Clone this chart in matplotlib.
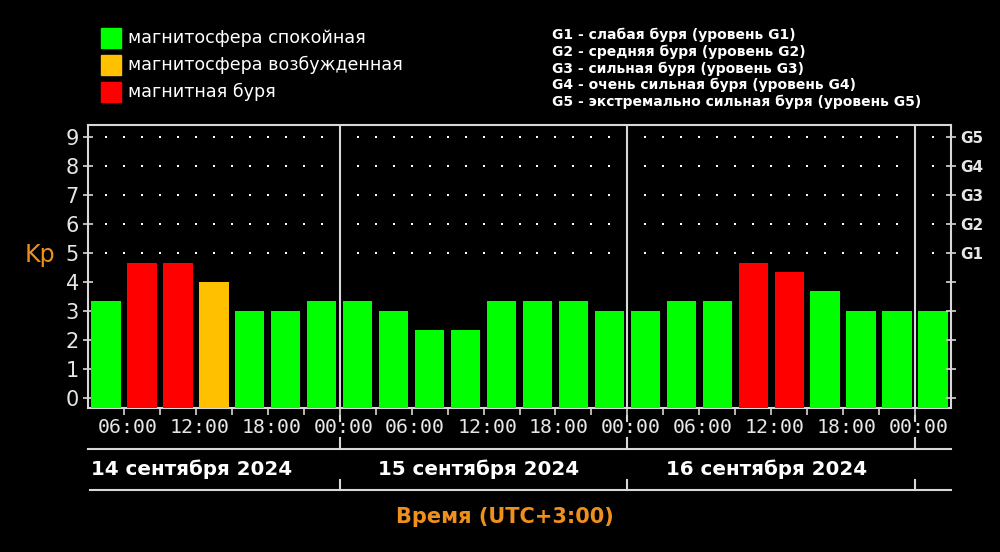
import numpy as np
import matplotlib.pyplot as plt

# Kp index, 3-hour intervals starting 14 Sep 2024 03:00 (UTC+3)
kp = [3.33, 4.67, 4.67, 4.0, 3.0, 3.0, 3.33,
      3.33, 3.0, 2.33, 2.33, 3.33, 3.33, 3.33, 3.0,
      3.0, 3.33, 3.33, 4.67, 4.33, 3.67, 3.0, 3.0,
      3.0]
status = ['q', 's', 's', 'a', 'q', 'q', 'q',
          'q', 'q', 'q', 'q', 'q', 'q', 'q', 'q',
          'q', 'q', 'q', 's', 's', 'q', 'q', 'q',
          'q']
start_hour = 3
step = 3
days = ['14 сентября 2024', '15 сентября 2024', '16 сентября 2024']
time_labels = ['06:00', '12:00', '18:00', '00:00']
g_levels = ['G1', 'G2', 'G3', 'G4', 'G5']
legend_items = ['магнитосфера спокойная', 'магнитосфера возбужденная', 'магнитная буря']
g_notes = ['G1 - слабая буря (уровень G1)',
           'G2 - средняя буря (уровень G2)',
           'G3 - сильная буря (уровень G3)',
           'G4 - очень сильная буря (уровень G4)',
           'G5 - экстремально сильная буря (уровень G5)']

colors = {'q': '#00ff00', 'a': '#ffc000', 's': '#ff0000'}
line_c = '#d8d8d8'
text_c = '#e6e6e6'
orange = '#f0901c'

plt.rcParams['font.family'] = ['DejaVu Sans']
fig = plt.figure(figsize=(10, 5.52), dpi=100, facecolor='black')
ax = fig.add_axes([0.088, 0.2609, 0.863, 0.5127], facecolor='black')

x0 = start_hour
x1 = start_hour + step * len(kp)
ymin, ymax = -0.36, 9.43
ax.set_xlim(x0, x1)
ax.set_ylim(ymin, ymax)

centers = x0 + step / 2 + step * np.arange(len(kp))
heights = np.array(kp) - ymin
ax.bar(centers, heights, bottom=ymin, width=2.45,
       color=[colors[s] for s in status], zorder=3)

# dotted grid
gx = np.arange(x0 + 1.5, x1, 1.5)
gx = gx[gx % 24 != 0]
for yy in range(5, 10):
    ax.scatter(gx, np.full(len(gx), yy), s=2.5, color='white', marker='s',
               linewidths=0, zorder=1)

# day separators
for d in range(24, x1, 24):
    ax.axvline(d, color=line_c, lw=1.5, zorder=4)

for s in ax.spines.values():
    s.set_color(line_c)
    s.set_linewidth(1.5)

ax.set_yticks(range(0, 10))
ax.tick_params(axis='y', colors=line_c, direction='inout', length=7, width=1.2,
               labelsize=15, labelcolor=text_c, pad=3)
ax.set_xticks(np.arange(6, x1, step))
ax.set_xticklabels([])
ax.tick_params(axis='x', colors=line_c, direction='out', length=5, width=1.2)

ax2 = ax.twinx()
ax2.set_ylim(ymin, ymax)
ax2.set_yticks(range(0, 10))
ax2.set_yticklabels([''] * 5 + g_levels)
ax2.tick_params(axis='y', colors=line_c, direction='inout', length=7, width=1.2,
                labelsize=11, labelcolor=text_c, pad=3)
for lab in ax2.get_yticklabels():
    lab.set_fontweight('bold')
for s in ax2.spines.values():
    s.set_visible(False)

tr = ax.get_xaxis_transform()
# time labels
for i, h in enumerate(range(6, x1 + 1, 6)):
    ax.text(h + 0.3, -0.07, time_labels[i % 4], transform=tr, ha='center', va='center',
            color=text_c, fontsize=14.3, family='DejaVu Sans Mono')

# lines under the axis
ax.plot([x0, x1], [-0.145, -0.145], transform=tr, color=line_c, lw=1.5, clip_on=False)
ax.plot([x0 + 0.15, x1], [-0.29, -0.29], transform=tr, color=line_c, lw=1.5, clip_on=False)
for d in range(24, x1, 24):
    ax.plot([d, d], [-0.03, -0.045], transform=tr, color=line_c, lw=1.5, clip_on=False)
    ax.plot([d, d], [-0.105, -0.145], transform=tr, color=line_c, lw=1.5, clip_on=False)
    ax.plot([d, d], [-0.255, -0.29], transform=tr, color=line_c, lw=1.5, clip_on=False)

for i, day in enumerate(days):
    ax.text(12 + 24 * i - 0.4, -0.216, day, transform=tr, ha='center', va='center',
            color='white', fontsize=14.3, fontweight='bold')

fig.text(0.505, 0.063, 'Время (UTC+3:00)', ha='center', va='center',
         color=orange, fontsize=15, fontweight='bold')
fig.text(0.04, 0.538, 'Kp', ha='center', va='center', color=orange, fontsize=17)

# legend
for i, (lab, key) in enumerate(zip(legend_items, ['q', 'a', 's'])):
    yc = 1 - (38 + 27 * i) / 552
    fig.patches.append(plt.Rectangle((0.101, yc - 0.018), 0.02, 0.036,
                                     transform=fig.transFigure, color=colors[key]))
    fig.text(0.128, yc, lab, ha='left', va='center', color='white', fontsize=12.6)

for i, note in enumerate(g_notes):
    yc = 1 - (35 + 16.7 * i) / 552
    fig.text(0.552, yc, note, ha='left', va='center', color='white',
             fontsize=10, fontweight='bold')

fig.savefig('out.png', dpi=100, facecolor='black')
